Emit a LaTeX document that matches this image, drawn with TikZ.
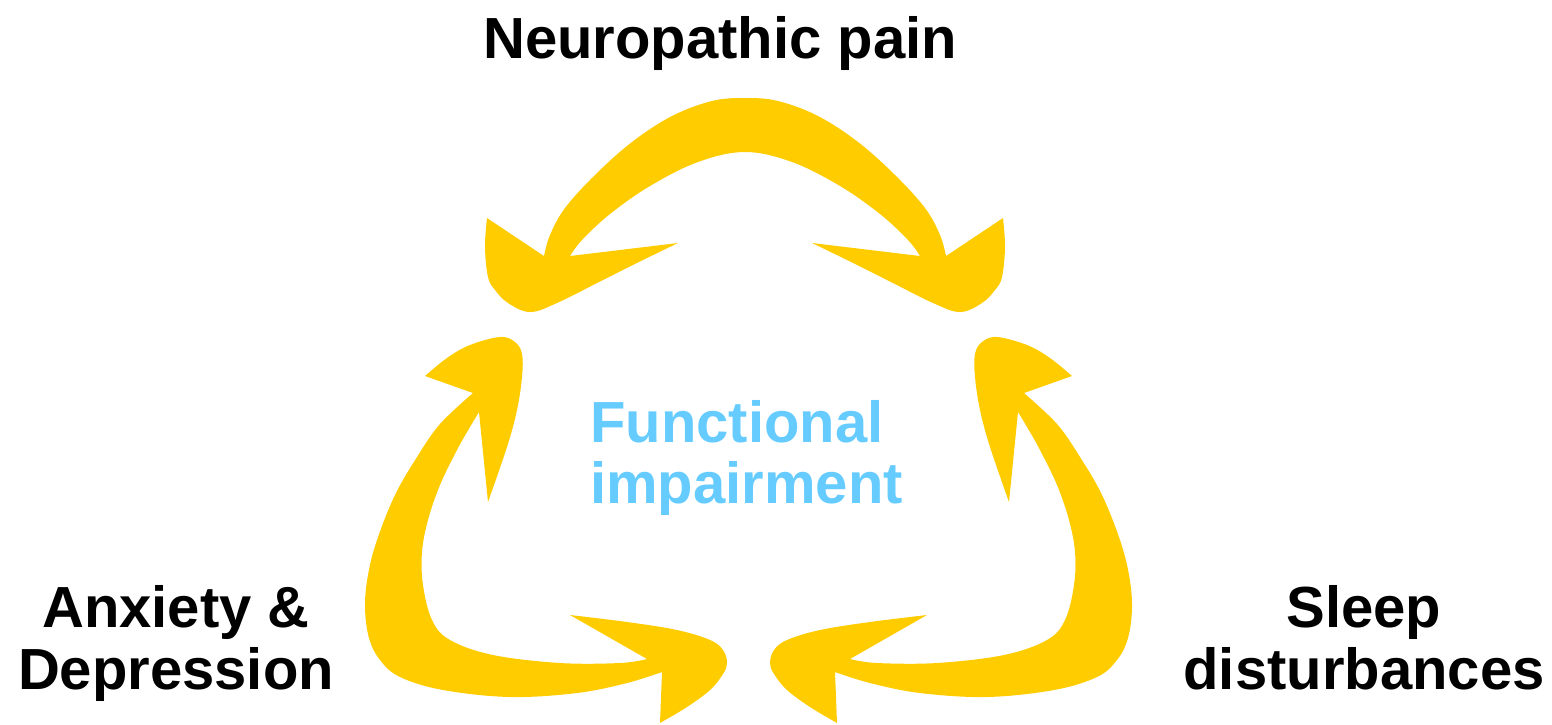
\documentclass[tikz,border=0pt]{standalone}
\usepackage{fontspec}
\setmainfont{Liberation Sans}
\definecolor{arrowyellow}{HTML}{FFCC00}
\definecolor{centerblue}{HTML}{66CCFF}
\tikzset{
  bigarrow/.style={fill=arrowyellow, draw=none},
  outerlabel/.style={inner sep=0pt, anchor=base, font=\fontsize{58}{62}\selectfont\bfseries, text=black},
  centerlabel/.style={inner sep=0pt, anchor=base west, font=\fontsize{58}{62}\selectfont\bfseries, text=centerblue},
  sidearrow/.pic={
    \fill[bigarrow] (473,393) -- (425,376)
      -- plot[smooth, tension=0.6] coordinates {(425,376) (447,358) (470,345) (500,337) (515,342) (522,354) (522,377) (517,410) (507,447) (488,502)}
      -- (479,412)
      -- plot[smooth, tension=0.6] coordinates {(479,412) (470,427) (457,450) (440,485) (428,520) (422,552) (423,585) (432,620) (450,640) (493,655) (560,663) (620,663) (647,659)}
      -- (570,615)
      -- plot[smooth, tension=0.6] coordinates {(570,615) (627,622) (677,630) (710,640) (723,650) (727,663) (723,674) (710,690) (687,707) (660,723)}
      -- (662,672)
      -- plot[smooth, tension=0.6] coordinates {(662,672) (627,683) (577,693) (510,697) (443,690) (400,677) (380,660) (369,638) (365,607) (368,575) (377,540) (395,495) (417,457) (440,424) (473,393)}
      -- cycle;
  },
}
\begin{document}
\begin{tikzpicture}[x=1pt, y=-1pt]
\useasboundingbox (0,0) rectangle (1552,724);

% top double arrow
\fill[bigarrow] (544,256) -- (487,218)
  -- plot[smooth, tension=0.6] coordinates {(487,218) (485,247) (488,277) (495,290) (508,303) (530,312) (557,303) (603,280) (643,260) (678,243)}
  -- (570,256)
  -- plot[smooth, tension=0.6] coordinates {(570,256) (582,240) (610,214) (650,186) (698,162) (745,152) (792,162) (840,186) (880,214) (908,240) (920,256)}
  -- (812,243)
  -- plot[smooth, tension=0.6] coordinates {(812,243) (847,260) (887,280) (933,303) (960,312) (982,303) (995,290) (1002,277) (1005,247) (1003,218)}
  -- (946,256)
  -- plot[smooth, tension=0.6] coordinates {(946,256) (940,235) (925,208) (895,175) (858,142) (818,116) (778,101) (745,98) (712,101) (672,116) (632,142) (595,175) (565,208) (550,235) (544,256)}
  -- cycle;

% left and right double arrows (mirror images)
\pic (leftarrow) at (0,0) {sidearrow};
\pic[xscale=-1] (rightarrow) at (1497,0) {sidearrow};

% labels
\node[outerlabel] (pain) at (720,58) {Neuropathic pain};
\node[outerlabel] (anx1) at (176,627) {Anxiety \&};
\node[outerlabel] (anx2) at (176,689) {Depression};
\node[outerlabel] (sleep1) at (1364,627) {Sleep};
\node[outerlabel] (sleep2) at (1364,689) {disturbances};
\node[centerlabel] (func1) at (590,442) {Functional};
\node[centerlabel] (func2) at (590,503) {impairment};
\end{tikzpicture}
\end{document}
